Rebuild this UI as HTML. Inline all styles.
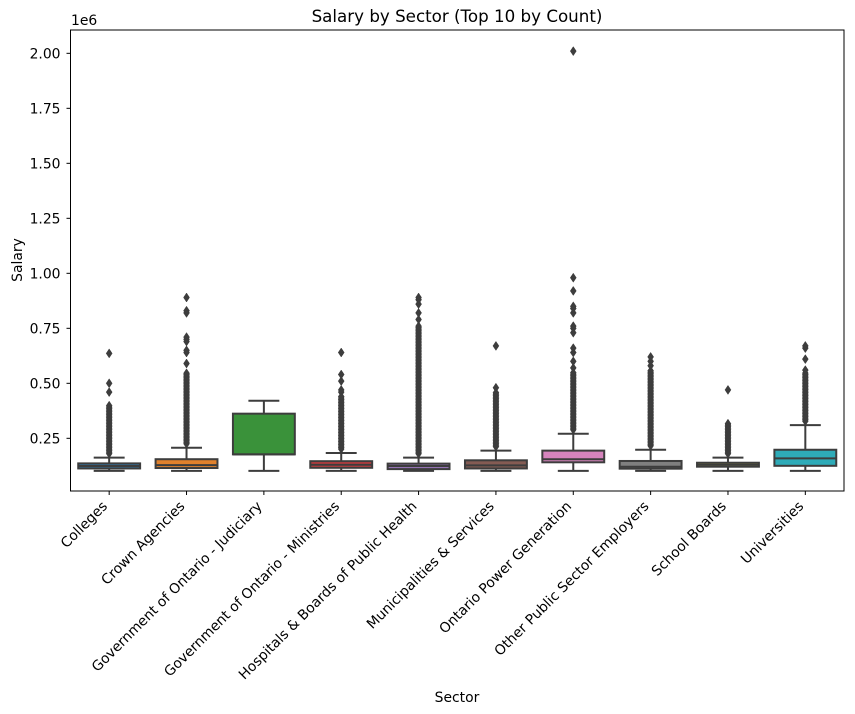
<!DOCTYPE html>
<html><head><meta charset="utf-8"><style>
body{margin:0;background:#fff;font-family:"DejaVu Sans","Liberation Sans",sans-serif;}
svg{display:block}
text{font-family:"DejaVu Sans","Liberation Sans",sans-serif;}
</style></head><body>
<svg id="chart" width="855" height="714" xmlns="http://www.w3.org/2000/svg">
<text x="457" y="22" text-anchor="middle" font-size="16.7">Salary by Sector (Top 10 by Count)</text>
<text x="71" y="25" font-size="13.9">1e6</text>
<text x="22" y="260" font-size="13.9" text-anchor="middle" transform="rotate(-90 22 260)">Salary</text>
<text x="457" y="702" font-size="13.9" text-anchor="middle">Sector</text>
<g id="plot"></g>
</svg>
<script>
const categories=["Colleges","Crown Agencies","Government of Ontario - Judiciary","Government of Ontario - Ministries","Hospitals & Boards of Public Health","Municipalities & Services","Ontario Power Generation","Other Public Sector Employers","School Boards","Universities"];
const colors=["#3274a1","#e1812c","#3a923a","#c03d3e","#9372b2","#845b53","#d684bd","#7f7f7f","#a9aa35","#2eabb8"];
const q1=[0.113,0.115,0.177,0.116,0.110,0.113,0.141,0.112,0.121,0.125];
const median=[0.124,0.128,0.177,0.130,0.124,0.127,0.155,0.121,0.130,0.159];
const q3=[0.136,0.155,0.362,0.146,0.135,0.150,0.194,0.147,0.139,0.198];
const whiskerLow=[0.102,0.102,0.102,0.102,0.102,0.102,0.102,0.102,0.102,0.102];
const whiskerHigh=[0.162,0.207,0.421,0.183,0.162,0.194,0.271,0.198,0.162,0.310];
const denseTop=[0.40,0.55,0,0.44,0.76,0.46,0.55,0.56,0.32,0.55];
const sparseOutliers=[[0.46,0.50,0.636],[0.59,0.64,0.65,0.69,0.70,0.71,0.82,0.83,0.89],[],[0.46,0.47,0.51,0.54,0.64],[0.79,0.82,0.86,0.88,0.89],[0.48,0.67],[0.57,0.60,0.64,0.66,0.73,0.75,0.76,0.82,0.84,0.85,0.92,0.98,2.01],[0.58,0.60,0.62],[0.47],[0.56,0.61,0.66,0.67]];
const yTicks=[0.25,0.5,0.75,1.0,1.25,1.5,1.75,2.0];
const yTickLabels=["0.25","0.50","0.75","1.00","1.25","1.50","1.75","2.00"];

const L=70.5,R=844,T=30,B=491;
const yMin=0.0105,yMax=2.106;
const y=v=>B-(v-yMin)/(yMax-yMin)*(B-T);
const band=(R-L)/categories.length;
const x=i=>L+band*(i+0.5);
const NS="http://www.w3.org/2000/svg";
const g=document.getElementById('plot');
function mk(tag,attrs,parent){const e=document.createElementNS(NS,tag);for(const k in attrs)e.setAttribute(k,attrs[k]);(parent||g).appendChild(e);return e;}
const ED="#3d3d3d";
function diamond(cx,cy,parent){const p=mk('path',{d:`M${cx} ${cy-4.5}L${cx+3} ${cy}L${cx} ${cy+4.5}L${cx-3} ${cy}Z`,fill:ED,stroke:ED,'stroke-width':0.5},parent);

}
categories.forEach((c,i)=>{
  const grp=mk('g',{});
  
  
  const cx=x(i),w=band*0.8,cw=band*0.8*0.5;
  mk('line',{x1:cx,x2:cx,y1:y(q3[i]),y2:y(whiskerHigh[i]),stroke:ED,'stroke-width':2},grp);
  mk('line',{x1:cx,x2:cx,y1:y(q1[i]),y2:y(whiskerLow[i]),stroke:ED,'stroke-width':2},grp);
  mk('line',{x1:cx-cw/2,x2:cx+cw/2,y1:y(whiskerHigh[i]),y2:y(whiskerHigh[i]),stroke:ED,'stroke-width':2},grp);
  mk('line',{x1:cx-cw/2,x2:cx+cw/2,y1:y(whiskerLow[i]),y2:y(whiskerLow[i]),stroke:ED,'stroke-width':2},grp);
  if(denseTop[i]>0){for(let py=y(whiskerHigh[i])-4;py>=y(denseTop[i]);py-=1.5)diamond(cx,py,grp);}
  sparseOutliers[i].forEach(v=>diamond(cx,y(v),grp));
  mk('rect',{x:cx-w/2,y:y(q3[i]),width:w,height:Math.max(1,y(q1[i])-y(q3[i])),fill:colors[i],stroke:ED,'stroke-width':2},grp);
  mk('line',{x1:cx-w/2,x2:cx+w/2,y1:y(median[i]),y2:y(median[i]),stroke:ED,'stroke-width':2},grp);
  mk('line',{x1:cx,x2:cx,y1:B,y2:B+4,stroke:'#000','stroke-width':1});
  const ax=cx-1,ay=B+16;
  const t=mk('text',{x:ax,y:ay,'font-size':13.9,'text-anchor':'end',transform:`rotate(-45 ${ax} ${ay})`});
  t.textContent=c;
  
  
});
yTicks.forEach((v,k)=>{
  mk('line',{x1:L-4,x2:L,y1:y(v),y2:y(v),stroke:'#000','stroke-width':1});
  const t=mk('text',{x:L-10,y:y(v)+5,'font-size':13.9,'text-anchor':'end'});
  t.textContent=yTickLabels[k];
  
  
});
const fr=mk('rect',{x:L,y:T,width:R-L,height:B-T,fill:'none',stroke:'#000','stroke-width':1});


</script>
</body></html>
